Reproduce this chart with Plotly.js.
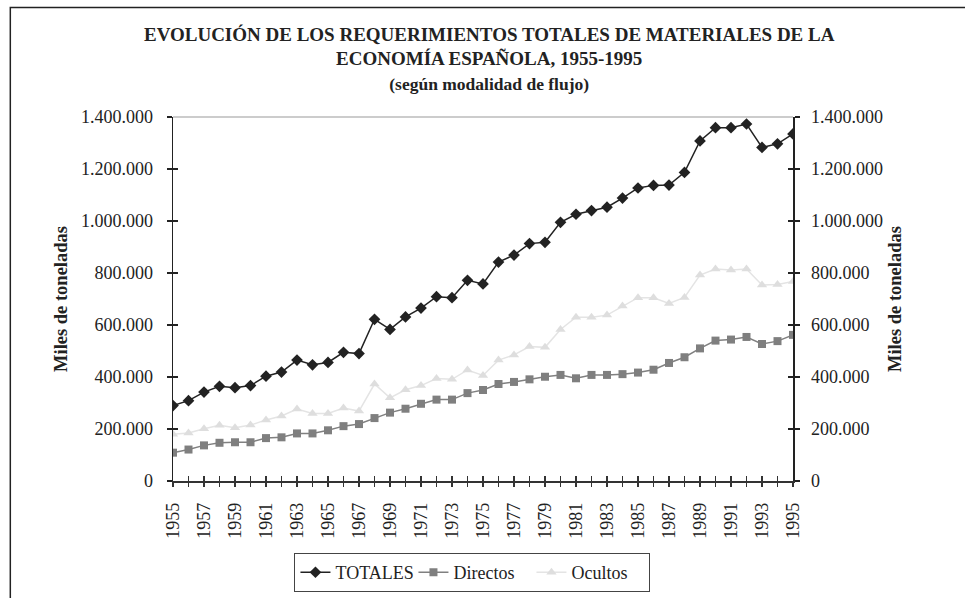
<!DOCTYPE html>
<html>
<head>
<meta charset="utf-8">
<script src="https://cdn.plot.ly/plotly-3.0.1.min.js"></script>
<style>
html,body{margin:0;padding:0;background:#fff;}
#chart{width:965px;height:598px;}
</style>
</head>
<body>
<div id="chart"></div>
<script>
const years = [1955,1956,1957,1958,1959,1960,1961,1962,1963,1964,1965,1966,1967,1968,1969,1970,1971,1972,1973,1974,1975,1976,1977,1978,1979,1980,1981,1982,1983,1984,1985,1986,1987,1988,1989,1990,1991,1992,1993,1994,1995];

const totales = [290000,309000,342000,364000,359000,367000,403000,419000,465000,447000,456000,495000,490000,622000,583000,631000,665000,709000,705000,772000,758000,842000,869000,913000,918000,995000,1026000,1040000,1053000,1088000,1127000,1137000,1138000,1187000,1308000,1359000,1359000,1373000,1283000,1297000,1335000];

const directos = [109000,121000,137000,147000,149000,149000,165000,168000,183000,183000,195000,211000,219000,242000,263000,278000,297000,313000,313000,338000,350000,373000,381000,391000,401000,408000,395000,408000,408000,411000,417000,428000,454000,476000,510000,540000,544000,554000,527000,538000,562000];

const ocultos = [180000,185000,201000,214000,205000,215000,235000,250000,277000,260000,260000,281000,269000,373000,320000,351000,367000,394000,391000,427000,406000,465000,485000,517000,514000,583000,630000,630000,638000,673000,705000,705000,683000,706000,792000,815000,812000,815000,754000,756000,767000];

const seriesNames = ['TOTALES','Directos','Ocultos'];
const titleLines = ['EVOLUCIÓN DE LOS REQUERIMIENTOS TOTALES DE MATERIALES DE LA','ECONOMÍA ESPAÑOLA, 1955-1995','(según modalidad de flujo)'];
const yTitle = 'Miles de toneladas';

const FONT = 'Liberation Serif';
const INK = '#222';

const traces = [
  {type:'scatter', mode:'lines+markers', name:seriesNames[0], x:years, y:totales,
   line:{color:'#222', width:1.5}, marker:{symbol:'diamond', size:9, color:'#222'}},
  {type:'scatter', mode:'lines+markers', name:seriesNames[1], x:years, y:directos,
   line:{color:'#808080', width:1.5}, marker:{symbol:'square', size:8, color:'#7f7f7f'}},
  {type:'scatter', mode:'lines+markers', name:seriesNames[2], x:years, y:ocultos,
   line:{color:'#e4e4e4', width:1.5}, marker:{symbol:'triangle-up', size:9, color:'#dedede'}},
  // empty helper traces so the overlay tick axes are drawn
  {type:'scatter', x:[], y:[], xaxis:'x2', yaxis:'y', showlegend:false, hoverinfo:'skip'},
  {type:'scatter', x:[], y:[], xaxis:'x3', yaxis:'y', showlegend:false, hoverinfo:'skip'},
  {type:'scatter', x:[], y:[], xaxis:'x', yaxis:'y2', showlegend:false, hoverinfo:'skip'},
  {type:'scatter', x:[], y:[], xaxis:'x', yaxis:'y3', showlegend:false, hoverinfo:'skip'},
  {type:'scatter', x:[], y:[], xaxis:'x', yaxis:'y4', showlegend:false, hoverinfo:'skip'}
];

const xr = [years[0], years[years.length-1]];
const yr = [0, 1400000];

const baseX = {range:xr, showgrid:false, zeroline:false, fixedrange:true};
const baseY = {range:yr, showgrid:false, zeroline:false, fixedrange:true, tickmode:'linear', tick0:0, dtick:200000};

const layout = {
  width:965, height:598,
  margin:{l:173, r:172, t:117, b:117, pad:0, autoexpand:false},
  paper_bgcolor:'#fff', plot_bgcolor:'#fff',
  separators:',.',
  font:{family:FONT, size:18, color:INK},
  showlegend:true,
  title:{
    text:'<b>'+titleLines[0]+'<br>'+titleLines[1]+'<br><span style="font-size:17.5px">'+titleLines[2]+'</span></b>',
    font:{family:FONT, size:19, color:INK},
    xref:'paper', x:0.51, xanchor:'center',
    yref:'container', y:0.932, yanchor:'top'
  },
  xaxis:Object.assign({}, baseX, {
    tickmode:'linear', tick0:1955, dtick:2, ticks:'', tickangle:-90,
    showline:true, linecolor:'#333', linewidth:1.5, ticklabelstandoff:13,
    tickfont:{family:FONT, size:18, color:INK}, anchor:'y'
  }),
  xaxis2:Object.assign({}, baseX, {
    overlaying:'x', anchor:'y', side:'bottom', tickmode:'linear', tick0:1955, dtick:1,
    ticks:'outside', ticklen:5, tickwidth:1.2, tickcolor:'#333', showticklabels:false, showline:false
  }),
  xaxis3:Object.assign({}, baseX, {
    overlaying:'x', anchor:'y', side:'bottom', tickmode:'linear', tick0:1955, dtick:1,
    ticks:'inside', ticklen:5, tickwidth:1.2, tickcolor:'#333', showticklabels:false, showline:false
  }),
  yaxis:Object.assign({}, baseY, {
    side:'left', anchor:'x', ticks:'outside', ticklen:5, tickwidth:1.2, tickcolor:'#222',
    showline:true, linecolor:'#222', linewidth:1.5, tickformat:',d', ticklabelstandoff:10,
    tickfont:{family:FONT, size:18, color:INK},
    title:{text:'<b>'+yTitle+'</b>', font:{family:FONT, size:18.5, color:INK}, standoff:8}
  }),
  yaxis2:Object.assign({}, baseY, {
    side:'right', overlaying:'y', anchor:'x', ticks:'outside', ticklen:5, tickwidth:1.2, tickcolor:'#222',
    showline:true, linecolor:'#222', linewidth:1.5, tickformat:',d', ticklabelstandoff:8,
    tickfont:{family:FONT, size:18, color:INK},
    title:{text:'<b>'+yTitle+'</b>', font:{family:FONT, size:18.5, color:INK}, standoff:6}
  }),
  yaxis3:Object.assign({}, baseY, {
    side:'left', overlaying:'y', anchor:'x', ticks:'inside', ticklen:5, tickwidth:1.2, tickcolor:'#222',
    showticklabels:false, showline:false
  }),
  yaxis4:Object.assign({}, baseY, {
    side:'right', overlaying:'y', anchor:'x', ticks:'inside', ticklen:5, tickwidth:1.2, tickcolor:'#222',
    showticklabels:false, showline:false
  }),
  legend:{
    orientation:'h', x:0.483, xanchor:'center', y:-0.198, yanchor:'top',
    bordercolor:'#444', borderwidth:1, bgcolor:'#fff',
    font:{family:FONT, size:18, color:INK}, traceorder:'normal', itemwidth:30,
    entrywidth:73, entrywidthmode:'pixels'
  },
  shapes:[
    {type:'line', xref:'paper', yref:'paper', x0:0, x1:1, y0:1, y1:1, line:{color:'#999', width:1.2}, layer:'below'},
    {type:'rect', xref:'paper', yref:'paper', x0:-0.2624, x1:1.6, y0:-0.6, y1:1.3011, line:{color:'#222', width:1.5}, fillcolor:'rgba(0,0,0,0)', layer:'below'}
  ]
};

Plotly.newPlot('chart', traces, layout, {displayModeBar:false, staticPlot:true});
</script>
</body>
</html>
